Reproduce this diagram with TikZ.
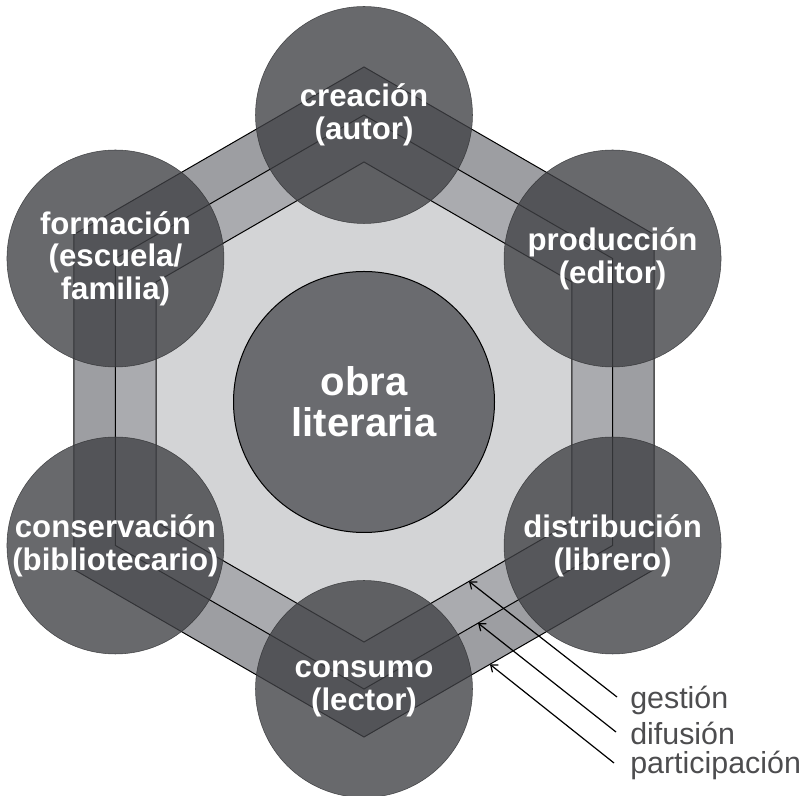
\documentclass[tikz,border=0pt]{standalone}
\usepackage{fontspec}
\setmainfont{Liberation Sans}
\usetikzlibrary{calc, arrows.meta}
\definecolor{bandOuter}{HTML}{9D9EA2}
\definecolor{bandMid}{HTML}{AAABAF}
\definecolor{hexInner}{HTML}{D3D4D6}
\definecolor{stageGrey}{HTML}{404145}
\definecolor{coreGrey}{HTML}{6A6B6F}
\definecolor{tagGrey}{HTML}{4D4D4F}
\tikzset{
  hexline/.style = {draw=black, line width=0.75pt},
  stage/.style   = {circle, minimum size=162.75pt, inner sep=0pt, align=center,
                    fill=stageGrey, fill opacity=0.79, draw=stageGrey!70!black,
                    draw opacity=0.79, line width=0.4pt, text=white, text opacity=1,
                    font=\bfseries\fontsize{23.4}{24.5}\selectfont},
  core/.style    = {circle, minimum size=195.75pt, inner sep=0pt, align=center,
                    fill=coreGrey, draw=black, line width=0.75pt, text=white,
                    font=\bfseries\fontsize{30}{30.5}\selectfont},
  tag/.style     = {anchor=base west, inner sep=0pt, text=tagGrey,
                    font=\fontsize{22.8}{24}\selectfont},
  fl/.style      = {-{Straight Barb[length=4.5pt, width=7pt]}, draw=black, line width=0.9pt}
}
\begin{document}
\begin{tikzpicture}[x=0.75pt, y=0.75pt]
  \useasboundingbox (0,0) rectangle (804,796);
  \coordinate (c) at (364,394);

  % corners of the three hexagons
  \foreach \i in {1,...,6} {
    \coordinate (out-\i) at ($(c)+({150-60*\i}:335)$);
    \coordinate (mid-\i) at ($(c)+({150-60*\i}:287)$);
    \coordinate (in-\i)  at ($(c)+({150-60*\i}:240)$);
  }
  \foreach \h/\col in {out/bandOuter, mid/bandMid, in/hexInner}
    \draw[hexline, fill=\col] (\h-1) -- (\h-2) -- (\h-3) -- (\h-4) -- (\h-5) -- (\h-6) -- cycle;

  \node[core] (obra) at (c) {obra\\literaria};

  \node[stage] (creacion)     at (mid-1) {creación\\(autor)};
  \node[stage] (produccion)   at (mid-2) {producción\\(editor)};
  \node[stage] (distribucion) at (mid-3) {distribución\\(librero)};
  \node[stage] (consumo)      at (mid-4) {consumo\\(lector)};
  \node[stage] (conservacion) at (mid-5) {conservación\\(bibliotecario)};
  \node[stage] (formacion)    at (mid-6) {formación\\(escuela/\\familia)};

  \node[tag] (gestion)       at (630,87) {gestión};
  \node[tag] (difusion)      at (630,51) {difusión};
  \node[tag] (participacion) at (630,22) {participación};

  \coordinate (tip-g) at ($(in-4)!0.505!(in-3)$);
  \coordinate (tip-d) at ($(mid-4)!0.459!(mid-3)$);
  \coordinate (tip-p) at ($(out-4)!0.434!(out-3)$);
  \draw[fl] ($(gestion.base west)+(-13,12)$) -- (tip-g);
  \draw[fl] ($(difusion.base west)+(-14,13)$) -- (tip-d);
  \draw[fl] ($(participacion.base west)+(-16,11)$) -- (tip-p);
\end{tikzpicture}
\end{document}
